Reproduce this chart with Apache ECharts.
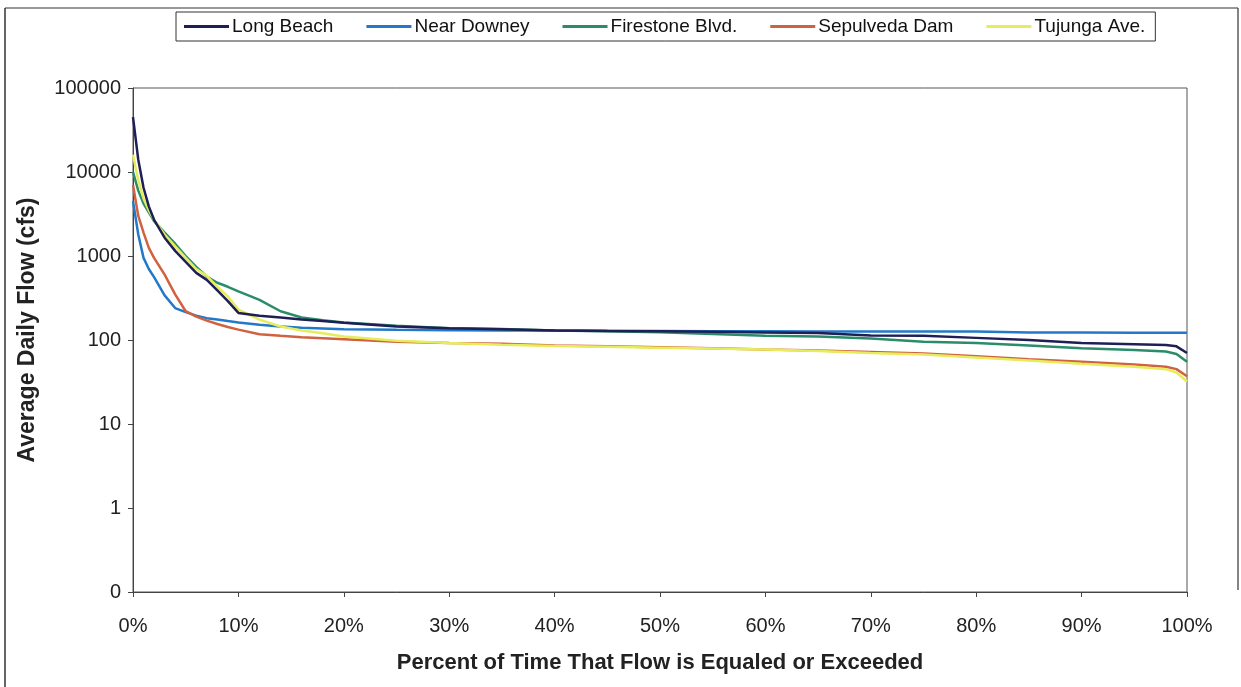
<!DOCTYPE html>
<html>
<head>
<meta charset="utf-8">
<script src="https://cdn.jsdelivr.net/npm/echarts@6/dist/echarts.min.js"></script>
<style>
html,body{margin:0;padding:0;background:#fff;}
#chart{width:1241px;height:687px;}
</style>
</head>
<body>
<div id="chart"></div>
<script>
// Percent of time (x values)
const pct = [0, 0.5, 1, 1.5, 2, 3, 4, 5, 6, 7, 8, 9, 10, 12, 14, 16, 18, 20, 25, 30, 35, 40, 45, 50, 55, 60, 65, 70, 75, 80, 85, 90, 95, 98, 99, 100];

const longBeach  = [45000, 14000, 6500, 3900, 2700, 1650, 1150, 850, 630, 520, 390, 290, 210, 195, 185, 175, 168, 160, 145, 138, 134, 130, 128, 127, 125, 123, 121, 113, 112, 106, 100, 92, 89, 87, 84, 70];
const nearDowney = [4500, 1800, 950, 700, 560, 340, 240, 215, 195, 182, 175, 168, 162, 152, 145, 140, 137, 134, 132, 131, 130, 130, 129, 128, 127, 127, 126, 126, 126, 126, 123, 123, 122, 122, 122, 122];
const firestone  = [10000, 6000, 4200, 3300, 2600, 1900, 1400, 1000, 740, 570, 480, 430, 380, 300, 220, 185, 172, 162, 148, 138, 135, 130, 127, 124, 118, 112, 110, 104, 95, 92, 86, 80, 76, 73, 68, 55];
const sepulveda  = [7000, 3000, 1900, 1250, 950, 600, 350, 220, 190, 170, 155, 143, 133, 117, 112, 108, 105, 102, 95, 92, 90, 86, 84, 82, 80, 77, 75, 72, 69, 64, 59, 55, 51, 48, 45, 37];
const tujunga    = [16000, 8000, 4800, 3500, 2700, 1800, 1300, 950, 700, 580, 430, 330, 230, 175, 145, 130, 120, 110, 98, 92, 88, 85, 83, 81, 79, 77, 74, 70, 67, 62, 57, 52, 48, 45, 41, 32];

const seriesNames = ['Long Beach', 'Near Downey', 'Firestone Blvd.', 'Sepulveda Dam', 'Tujunga Ave.'];
const seriesData = [longBeach, nearDowney, firestone, sepulveda, tujunga];
const colors = ['#1e1f55', '#2279c9', '#2b8c6a', '#d0623f', '#e6ec5a'];

const pair = arr => pct.map((p, i) => [p, arr[i]]);

const chart = echarts.init(document.getElementById('chart'));
const font = 'Liberation Sans, Arial, sans-serif';
const frameColor = '#333';

chart.setOption({
  backgroundColor: '#fff',
  animation: false,
  color: colors,
  graphic: [
    { type: 'line', shape: { x1: 5, y1: 8, x2: 1238, y2: 8 }, style: { stroke: frameColor, lineWidth: 1.2 } },
    { type: 'line', shape: { x1: 5, y1: 8, x2: 5, y2: 687 }, style: { stroke: frameColor, lineWidth: 1.5 } },
    { type: 'line', shape: { x1: 1238, y1: 8, x2: 1238, y2: 590 }, style: { stroke: frameColor, lineWidth: 1.2 } }
  ],
  legend: {
    top: 12,
    left: 176,
    data: seriesNames,
    itemWidth: 45,
    itemHeight: 3,
    itemGap: 33,
    icon: 'rect',
    borderColor: '#333',
    borderWidth: 1,
    padding: [5, 10, 5, 8],
    textStyle: { fontFamily: font, fontSize: 19, color: '#111', padding: [0, 0, 0, -2] }
  },
  grid: {
    left: 133, right: 54, top: 88, bottom: 95,
    show: true, borderColor: '#555', borderWidth: 1, backgroundColor: 'transparent'
  },
  xAxis: {
    type: 'value',
    min: 0, max: 100, interval: 10,
    name: 'Percent of Time That Flow is Equaled or Exceeded',
    nameLocation: 'middle',
    nameGap: 60,
    nameTextStyle: { fontFamily: font, fontSize: 22, fontWeight: 'bold', color: '#222' },
    axisLine: { show: true, lineStyle: { color: '#444', width: 1 } },
    axisTick: { show: true, inside: false, length: 5, lineStyle: { color: '#444' } },
    axisLabel: { fontFamily: font, fontSize: 20, color: '#222', margin: 24, formatter: '{value}%' },
    splitLine: { show: false }
  },
  yAxis: {
    type: 'log',
    logBase: 10,
    min: 0.1, max: 100000,
    interval: 1,
    name: 'Average Daily Flow (cfs)',
    nameLocation: 'middle',
    nameGap: 94,
    nameRotate: 90,
    nameTextStyle: { fontFamily: font, fontSize: 23, fontWeight: 'bold', color: '#222', padding: [0, 0, 0, 20] },
    axisLine: { show: true, lineStyle: { color: '#444', width: 1 } },
    axisTick: { show: true, inside: false, length: 5, lineStyle: { color: '#444' } },
    axisLabel: {
      fontFamily: font, fontSize: 20, color: '#222', margin: 12,
      formatter: v => (v < 1 ? '0' : String(Math.round(v)))
    },
    splitLine: { show: false }
  },
  series: seriesNames.map((name, i) => ({
    name: name,
    type: 'line',
    data: pair(seriesData[i]),
    showSymbol: false,
    symbol: 'none',
    lineStyle: { width: 2.5, color: colors[i] },
    itemStyle: { color: colors[i] },
    z: i === 0 ? 5 : 3
  }))
});
</script>
</body>
</html>
